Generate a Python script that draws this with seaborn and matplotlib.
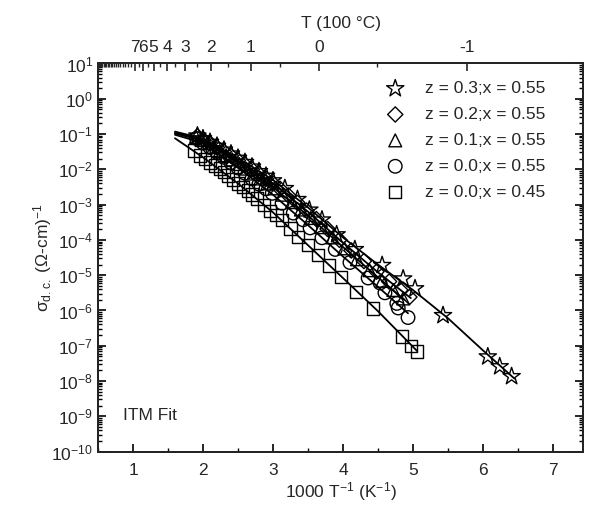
import numpy as np
import matplotlib
matplotlib.use("Agg")
import matplotlib.pyplot as plt
from matplotlib.ticker import FixedLocator, LogLocator, LogFormatterSciNotation, MultipleLocator, NullFormatter
import seaborn as sns

# === Data (x = 1000/T, values as log10 sigma) ===
star_x = [1.92, 2.00, 2.10, 2.20, 2.30, 2.40, 2.50, 2.60, 2.70, 2.80, 2.90, 3.00, 3.17,
          3.35, 3.52, 3.70, 3.91, 4.17, 4.56, 4.86, 5.03, 5.43, 6.07, 6.24, 6.41]
star_log = [-1.05, -1.13, -1.23, -1.34, -1.45, -1.56, -1.68, -1.80, -1.93, -2.06, -2.19, -2.32, -2.54,
            -2.85, -3.15, -3.43, -3.85, -4.27, -4.72, -5.10, -5.38, -6.14, -7.31, -7.59, -7.87]

dia_x = [1.92, 2.00, 2.10, 2.20, 2.30, 2.40, 2.50, 2.60, 2.70, 2.80, 2.90, 3.00, 3.10,
         3.22, 3.35, 3.48, 3.62, 3.78, 3.95, 4.12, 4.30, 4.48, 4.66, 4.82, 4.95]
dia_log = [-1.06, -1.15, -1.26, -1.38, -1.50, -1.62, -1.75, -1.87, -2.00, -2.13, -2.27, -2.40, -2.55,
           -2.74, -2.95, -3.17, -3.41, -3.69, -4.00, -4.30, -4.60, -4.90, -5.18, -5.42, -5.62]

tri_x = [1.90, 1.98, 2.06, 2.15, 2.24, 2.33, 2.42, 2.52, 2.62, 2.72, 2.82, 2.92, 3.02,
         3.14, 3.27, 3.40, 3.54, 3.69, 3.85, 4.02, 4.20, 4.38, 4.56, 4.72, 4.86]
tri_log = [-1.08, -1.17, -1.26, -1.37, -1.48, -1.60, -1.72, -1.85, -1.98, -2.12, -2.26, -2.40, -2.54,
           -2.72, -2.93, -3.14, -3.38, -3.64, -3.93, -4.24, -4.55, -4.86, -5.16, -5.42, -5.66]

circ_x = [1.91, 2.00, 2.10, 2.20, 2.30, 2.40, 2.50, 2.60, 2.70, 2.80, 2.90, 2.99, 3.13,
          3.29, 3.43, 3.53, 3.70, 3.89, 4.10, 4.36, 4.53, 4.60, 4.77, 4.79, 4.93]
circ_log = [-1.13, -1.25, -1.38, -1.52, -1.66, -1.81, -1.96, -2.11, -2.27, -2.42, -2.55, -2.68, -2.96,
            -3.24, -3.43, -3.66, -3.94, -4.27, -4.64, -5.08, -5.22, -5.50, -5.80, -5.93, -6.20]

sq_x = [1.88, 1.96, 2.03, 2.10, 2.17, 2.24, 2.30, 2.36, 2.43, 2.50, 2.57, 2.64, 2.70, 2.77, 2.87,
        2.96, 3.05, 3.13, 3.25, 3.36, 3.50, 3.64, 3.80, 3.97, 4.19, 4.43, 4.84, 4.97, 5.06]
sq_log = [-1.47, -1.61, -1.71, -1.81, -1.89, -1.98, -2.08, -2.17, -2.29, -2.40, -2.50, -2.60, -2.71, -2.83, -3.01,
          -3.18, -3.30, -3.43, -3.68, -3.92, -4.15, -4.42, -4.72, -5.05, -5.48, -5.94, -6.74, -7.00, -7.16]

# ITM fit curves
star_fit_x = [1.6, 2.0, 2.5, 3.0, 3.5, 4.0, 4.5, 5.0, 5.5, 6.0, 6.45]
star_fit_log = [-0.93, -1.13, -1.68, -2.30, -3.08, -3.93, -4.70, -5.42, -6.22, -7.13, -7.93]
dia_fit_x = [1.6, 2.0, 2.5, 3.0, 3.5, 4.0, 4.5, 4.97]
dia_fit_log = [-0.97, -1.15, -1.75, -2.40, -3.20, -4.08, -4.92, -5.65]
tri_fit_x = [1.6, 2.0, 2.5, 3.0, 3.5, 4.0, 4.5, 4.88]
tri_fit_log = [-0.98, -1.19, -1.82, -2.51, -3.31, -4.20, -5.06, -5.70]
circ_fit_x = [1.6, 2.0, 2.5, 3.0, 3.5, 4.0, 4.5, 4.93]
circ_fit_log = [-1.02, -1.25, -1.95, -2.72, -3.58, -4.47, -5.33, -6.08]
sq_fit_x = [1.6, 2.0, 2.5, 3.0, 3.5, 4.0, 4.5, 5.06]
sq_fit_log = [-1.12, -1.66, -2.40, -3.22, -4.15, -5.08, -6.02, -7.15]

labels = ["z = 0.3;x = 0.55", "z = 0.2;x = 0.55", "z = 0.1;x = 0.55",
          "z = 0.0;x = 0.55", "z = 0.0;x = 0.45"]
markers = ["*", "D", "^", "o", "s"]
marker_sizes = [170, 60, 85, 95, 80]

top_major_T = [7, 6, 5, 4, 3, 2, 1, 0, -1]
top_minor_T = [17, 16.5, 16, 15.5, 15, 14.5, 14, 13.5, 13, 12.5, 12, 11.5, 11, 10.5, 10, 9.5,
               9, 8.5, 8, 7.5, 6.5, 5.5, 4.5, 3.5, 2.5, 1.5, 0.5, -0.5]

# === Style ===
sns.set_style("ticks")
plt.rcParams['font.family'] = ['Liberation Sans', 'DejaVu Sans']
plt.rcParams['mathtext.fontset'] = 'custom'
plt.rcParams['mathtext.rm'] = 'Liberation Sans'
plt.rcParams['mathtext.it'] = 'Liberation Sans:italic'
plt.rcParams['mathtext.default'] = 'regular'
fs = 12.5

fig = plt.figure(figsize=(5.89, 5.12), dpi=100)
ax = fig.add_axes([0.1664, 0.118, 0.8234, 0.758])

series = [(star_x, star_log), (dia_x, dia_log), (tri_x, tri_log), (circ_x, circ_log), (sq_x, sq_log)]
fits = [(star_fit_x, star_fit_log), (dia_fit_x, dia_fit_log), (tri_fit_x, tri_fit_log),
        (circ_fit_x, circ_fit_log), (sq_fit_x, sq_fit_log)]

for (xs, ls), (fx, fl), lab, m, s in zip(series, fits, labels, markers, marker_sizes):
    sns.scatterplot(x=xs, y=10.0 ** np.array(ls), marker=m, s=s, facecolors="none",
                    edgecolor="black", linewidth=1.0, ax=ax, label=lab, zorder=3)
    sns.lineplot(x=fx, y=10.0 ** np.array(fl), color="black", linewidth=1.3, ax=ax,
                 sort=False, estimator=None, legend=False, zorder=4)

ax.set_yscale("log")
ax.set_xlim(0.5, 7.43)
ax.set_ylim(1e-10, 1e1)
ax.yaxis.set_major_locator(FixedLocator(10.0 ** np.arange(-10, 2)))
ax.yaxis.set_major_formatter(LogFormatterSciNotation())
ax.yaxis.set_minor_locator(LogLocator(base=10, subs=np.arange(2, 10), numticks=200))
ax.yaxis.set_minor_formatter(NullFormatter())
ax.xaxis.set_major_locator(MultipleLocator(1))
ax.xaxis.set_minor_locator(MultipleLocator(0.5))
ax.tick_params(which="both", direction="in", right=True, top=False, labelsize=fs, color="black")
ax.tick_params(which="major", length=6, width=1.2)
ax.tick_params(which="minor", length=3, width=1.0)
ax.tick_params(axis="x", pad=8)
for sp in ax.spines.values():
    sp.set_linewidth(1.3)
    sp.set_color("black")

ax.set_xlabel("1000 T$^{-1}$ (K$^{-1}$)", fontsize=fs, labelpad=2)
ax.set_ylabel("σ$_{d.c.}$ (Ω-cm)$^{-1}$", fontsize=fs, labelpad=-2)

# top temperature axis (T in 100 °C)
ax2 = ax.twiny()
ax2.set_xlim(ax.get_xlim())
ax2.set_xticks([1000.0 / (100 * t + 273.15) for t in top_major_T])
ax2.set_xticklabels([str(t) for t in top_major_T])
ax2.set_xticks([1000.0 / (100 * t + 273.15) for t in top_minor_T], minor=True)
ax2.tick_params(which="both", direction="in", labelsize=fs, pad=6)
ax2.tick_params(which="major", length=6, width=1.2)
ax2.tick_params(which="minor", length=3, width=1.0)
ax2.set_xlabel("T (100 °C)", fontsize=fs, labelpad=9)
for sp in ax2.spines.values():
    sp.set_linewidth(1.3)

ax.text(0.051, 0.094, "ITM Fit", transform=ax.transAxes, fontsize=fs, va="center", ha="left")

leg = ax.legend(loc="upper left", bbox_to_anchor=(0.595, 0.955), frameon=False, fontsize=fs,
                handlelength=1.0, handletextpad=1.2, labelspacing=0.62, borderpad=0, borderaxespad=0)
for h in leg.legend_handles:
    h.set_facecolor("none")
    h.set_edgecolor("black")

fig.savefig("out.png", dpi=100)
